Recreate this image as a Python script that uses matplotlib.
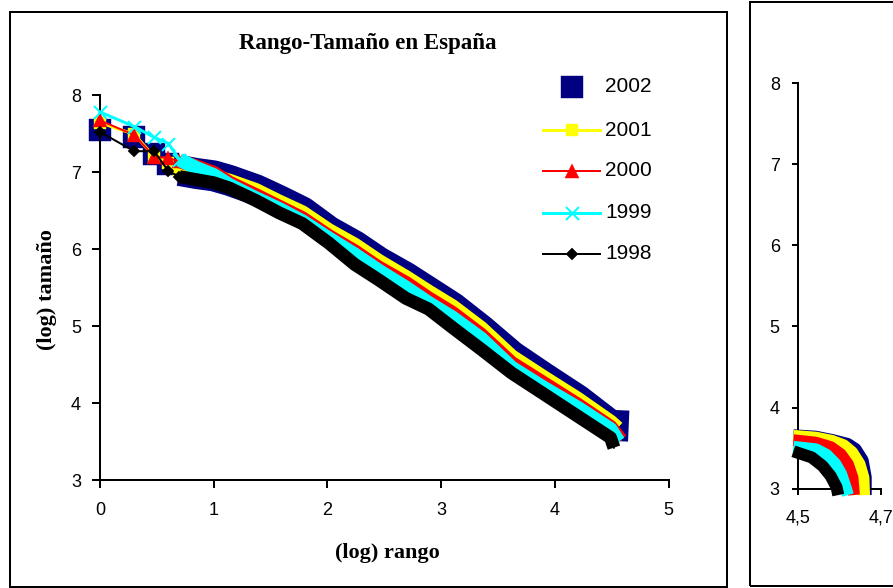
import matplotlib
matplotlib.use('Agg')
import matplotlib.pyplot as plt
from matplotlib.patches import Rectangle
from matplotlib.lines import Line2D

plt.rcParams['font.family'] = ['Liberation Sans', 'DejaVu Sans']

W, H, DPI = 893, 588, 100

# ---------------- data ----------------
years = ['2002', '2001', '2000', '1999', '1998']
colors = ['#000080', '#FFFF00', '#FF0000', '#00FFFF', '#000000']
markers = ['s', 's', '^', 'x', 'D']

# five largest cities: log rank and log size
x_top = [0.0, 0.301, 0.477, 0.602, 0.699]
y_top_2002 = [7.55, 7.45, 7.24, 7.11, 7.02]
y_top_2001 = [7.64, 7.49, 7.20, 7.12, 7.03]
y_top_2000 = [7.67, 7.48, 7.20, 7.18, 7.14]
y_top_1999 = [7.78, 7.59, 7.45, 7.37, 7.16]
y_top_1998 = [7.52, 7.27, 7.27, 7.01, 6.94]

# dense body of the distribution
x_body = [0.699, 0.85, 1.0, 1.14, 1.37, 1.575, 1.78, 2.01, 2.24, 2.45,
          2.69, 2.89, 3.1, 3.35, 3.62, 3.9, 4.2, 4.49]
y_body_2002 = [7.02, 6.98, 6.95, 6.89, 6.77, 6.63, 6.48, 6.23, 6.04, 5.83,
               5.63, 5.44, 5.24, 4.95, 4.61, 4.33, 4.04, 3.71]
y_body_2001 = [7.03, 6.99, 6.94, 6.88, 6.76, 6.61, 6.47, 6.24, 6.05, 5.84,
               5.63, 5.44, 5.25, 4.97, 4.60, 4.33, 4.05, 3.75]
y_body_2000 = [7.14, 7.07, 6.99, 6.86, 6.70, 6.55, 6.40, 6.17, 5.97, 5.76,
               5.56, 5.36, 5.17, 4.89, 4.52, 4.26, 3.98, 3.69]
y_body_1999 = [7.16, 7.05, 6.96, 6.83, 6.66, 6.52, 6.36, 6.14, 5.93, 5.72,
               5.50, 5.30, 5.11, 4.84, 4.46, 4.20, 3.94, 3.66]
y_body_1998 = [6.94, 6.90, 6.86, 6.79, 6.63, 6.47, 6.33, 6.08, 5.80, 5.60,
               5.36, 5.22, 4.98, 4.70, 4.39, 4.12, 3.83, 3.55]
# last plotted point of each series
x_end = [4.65, 4.55, 4.58, 4.56, 4.52]
y_end = [3.70, 3.67, 3.52, 3.50, 3.42]

# tail detail (right panel)
tail_x_2002 = [4.488, 4.5426, 4.5818, 4.6199, 4.639, 4.6563, 4.6636, 4.6636]
tail_y_2002 = [3.658, 3.640, 3.600, 3.551, 3.487, 3.348, 3.141, 2.922]
tail_x_2001 = [4.488, 4.5425, 4.5811, 4.6102, 4.6305, 4.6486, 4.658, 4.6595]
tail_y_2001 = [3.650, 3.628, 3.589, 3.534, 3.448, 3.302, 3.136, 2.919]
tail_x_2000 = [4.488, 4.5415, 4.5788, 4.603, 4.6205, 4.6314, 4.635]
tail_y_2000 = [3.596, 3.567, 3.511, 3.423, 3.299, 3.133, 2.920]
tail_x_1999 = [4.488, 4.5429, 4.5684, 4.5896, 4.604, 4.6158, 4.6205]
tail_y_1999 = [3.515, 3.484, 3.416, 3.307, 3.180, 3.000, 2.920]
tail_x_1998 = [4.488, 4.5324, 4.559, 4.5785, 4.593, 4.597]
tail_y_1998 = [3.460, 3.385, 3.279, 3.156, 3.016, 2.920]

main_xticks = [0, 1, 2, 3, 4, 5]
main_yticks = [3, 4, 5, 6, 7, 8]
tail_xticks = [4.5, 4.7]
tail_xlabels = ['4,5', '4,7']
tail_yticks = [3, 4, 5, 6, 7, 8]

tops = [y_top_2002, y_top_2001, y_top_2000, y_top_1999, y_top_1998]
bodies = [y_body_2002, y_body_2001, y_body_2000, y_body_1999, y_body_1998]
tails = [(tail_x_2002, tail_y_2002), (tail_x_2001, tail_y_2001),
         (tail_x_2000, tail_y_2000), (tail_x_1999, tail_y_1999),
         (tail_x_1998, tail_y_1998)]

# ---------------- styles ----------------
PT = 0.72  # points per pixel at 100 dpi
band_lw = [31 * PT, 15 * PT, 14 * PT, 14 * PT, 13 * PT]
thin_lw = [0, 3 * PT, 2 * PT, 3 * PT, 2 * PT]
msize = [22 * PT, 12 * PT, 14 * PT, 13 * PT, 8.5 * PT]
mew = [0.3, 0.3, 0.3, 2 * PT, 0.3]
n_mark = [4, 5, 5, 5, 5]

fig = plt.figure(figsize=(W / DPI, H / DPI), dpi=DPI)
fig.patch.set_facecolor('white')


def fx(px):
    return px / W


def fy(py):
    return 1 - py / H


# frames
fig.add_artist(Rectangle((fx(9.5), fy(586.5)), fx(726.5) - fx(9.5), fy(11.5) - fy(586.5),
                         transform=fig.transFigure, fill=False, lw=2 * PT, ec='black'))
fig.add_artist(Rectangle((fx(749.5), fy(585.5)), fx(905) - fx(749.5), fy(1.5) - fy(585.5),
                         transform=fig.transFigure, fill=False, lw=2 * PT, ec='black'))

# ---------------- main panel ----------------
ax = fig.add_axes([fx(100), fy(480), fx(668.5) - fx(100), fy(95) - fy(480)])
ax.set_xlim(0, 5)
ax.set_ylim(3, 8)
for i in range(5):
    c = colors[i]
    xs = x_top + x_body[1:] + [x_end[i]]
    ys = tops[i] + bodies[i][1:] + [y_end[i]]
    xb = x_body + [x_end[i]]
    yb = bodies[i] + [y_end[i]]
    z = 2 + i
    if thin_lw[i] > 0:
        ax.plot(xs, ys, color=c, lw=thin_lw[i], clip_on=False, zorder=z)
    ax.plot(xb, yb, color=c, lw=band_lw[i], solid_capstyle='butt',
            solid_joinstyle='round', clip_on=False, zorder=z)
    ax.plot(x_top[:n_mark[i]], tops[i][:n_mark[i]], ls='none', marker=markers[i],
            ms=msize[i], mfc=c, mec=c, mew=mew[i], clip_on=False, zorder=z)

for s in ['top', 'right']:
    ax.spines[s].set_visible(False)
for s in ['left', 'bottom']:
    ax.spines[s].set_linewidth(2 * PT)
ax.set_xticks(main_xticks)
ax.set_yticks(main_yticks)
ax.tick_params(axis='both', direction='out', length=8 * PT, width=2 * PT,
               labelsize=13, colors='black')
ax.tick_params(axis='x', pad=10)
ax.tick_params(axis='y', pad=8)
ax.set_facecolor('none')

fig.text(fx(367.5), fy(44), 'Rango-Tamaño en España', ha='center', va='center',
         fontsize=16.5, fontweight='bold', family='Liberation Serif')
fig.text(fx(387), fy(553), '(log) rango', ha='center', va='center',
         fontsize=16, fontweight='bold', family='Liberation Serif')
fig.text(fx(47), fy(290), '(log) tamaño', ha='center', va='center', rotation=90,
         fontsize=16, fontweight='bold', family='Liberation Serif')

# legend (manual)
leg_y = [87, 130, 171, 213, 254]
for i in range(5):
    c = colors[i]
    yy = fy(leg_y[i])
    if thin_lw[i] > 0:
        fig.add_artist(Line2D([fx(543), fx(600)], [yy, yy], transform=fig.transFigure,
                              color=c, lw=thin_lw[i]))
    fig.add_artist(Line2D([fx(572)], [yy], transform=fig.transFigure, ls='none',
                          marker=markers[i], ms=msize[i], mfc=c, mec=c, mew=mew[i]))
    fig.text(fx(605), yy, years[i], ha='left', va='center', fontsize=15)

# ---------------- tail panel ----------------
ax2 = fig.add_axes([fx(798.3), fy(488.6), fx(880.7) - fx(798.3), fy(83.2) - fy(488.6)])
ax2.set_xlim(4.5, 4.7)
ax2.set_ylim(3, 8)
for i in range(5):
    tx, ty = tails[i]
    ax2.plot(tx, ty, color=colors[i], lw=12 * PT, solid_capstyle='butt',
             solid_joinstyle='round', clip_on=False, zorder=2 + i)
for s in ['top', 'right']:
    ax2.spines[s].set_visible(False)
for s in ['left', 'bottom']:
    ax2.spines[s].set_linewidth(2 * PT)
ax2.set_xticks(tail_xticks)
ax2.set_xticklabels(tail_xlabels)
ax2.set_yticks(tail_yticks)
ax2.tick_params(axis='both', direction='out', length=6 * PT, width=2 * PT,
                labelsize=13, colors='black')
ax2.tick_params(axis='x', pad=11)
ax2.tick_params(axis='y', pad=9)
ax2.set_facecolor('none')

fig.savefig('out.png', dpi=DPI, facecolor='white')
